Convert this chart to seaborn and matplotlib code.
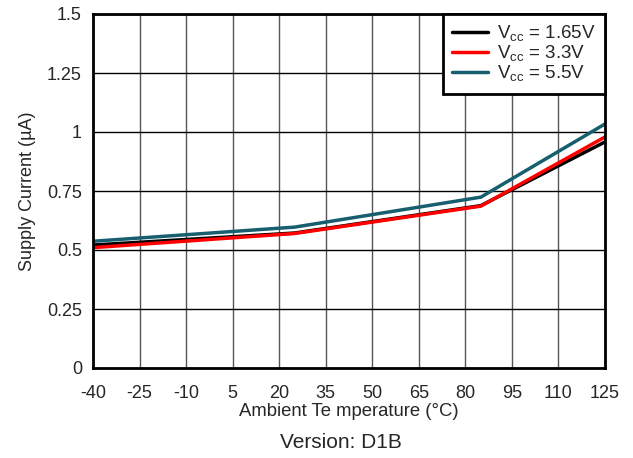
import matplotlib
matplotlib.use("Agg")
import matplotlib.pyplot as plt
import seaborn as sns
import pandas as pd

temps = [-40, 25, 85, 125]
i_165 = [0.521, 0.572, 0.688, 0.958]
i_33 = [0.510, 0.570, 0.686, 0.979]
i_55 = [0.537, 0.597, 0.724, 1.034]
labels = ["V$_{\\mathregular{cc}}$ = 1.65V", "V$_{\\mathregular{cc}}$ = 3.3V", "V$_{\\mathregular{cc}}$ = 5.5V"]
colors = ["#000000", "#ff0000", "#175e6e"]
xticks = list(range(-40, 126, 15))
yticks = [0, 0.25, 0.5, 0.75, 1, 1.25, 1.5]
ytick_labels = ["0", "0.25", "0.5", "0.75", "1", "1.25", "1.5"]

df = pd.DataFrame({
    "temp": temps * 3,
    "current": i_165 + i_33 + i_55,
    "supply": [labels[0]] * 4 + [labels[1]] * 4 + [labels[2]] * 4,
})

sns.set_style("white")
plt.rcParams["font.family"] = ["Liberation Sans", "DejaVu Sans"]
plt.rcParams["mathtext.fontset"] = "custom"
plt.rcParams["mathtext.rm"] = "Liberation Sans"

fig = plt.figure(figsize=(6.33, 4.58), dpi=100)
ax = fig.add_axes([93 / 633, 1 - 368 / 458, 512 / 633, 354 / 458])

# grid drawn by hand so vertical lines can be grey and horizontal black
for x in xticks:
    ax.axvline(x, color="#555555", lw=1, zorder=0)
for y in yticks:
    ax.axhline(y, color="black", lw=1, zorder=0)

sns.lineplot(data=df, x="temp", y="current", hue="supply", palette=colors,
             hue_order=labels, linewidth=2.5, ax=ax)

ax.set_xlim(-40, 125)
ax.set_ylim(0, 1.5)
ax.set_xticks(xticks)
ax.set_xticklabels([str(x) for x in xticks])
ax.set_yticks(yticks)
ax.set_yticklabels(ytick_labels)
ax.tick_params(labelsize=13, length=0)
ax.tick_params(axis="x", pad=12)
ax.tick_params(axis="y", pad=8)
for s in ax.spines.values():
    s.set_color("black")
    s.set_linewidth(2)
ax.set_xlabel("Ambient Te mperature (°C)", fontsize=13.3, labelpad=1)
ax.set_ylabel("Supply Current (µA)", fontsize=13, labelpad=8)

leg = ax.legend(loc="upper right", fontsize=13.5, frameon=True, fancybox=False,
                borderaxespad=0, handlelength=1.9, labelspacing=0.0,
                borderpad=0.5, handletextpad=0.5)
leg.get_frame().set_edgecolor("black")
leg.get_frame().set_linewidth(2)
leg.get_frame().set_alpha(1)

fig.text(341 / 633, 1 - 443 / 458, "Version: D1B", ha="center", va="center", fontsize=15)

fig.savefig("out.png", dpi=100)
